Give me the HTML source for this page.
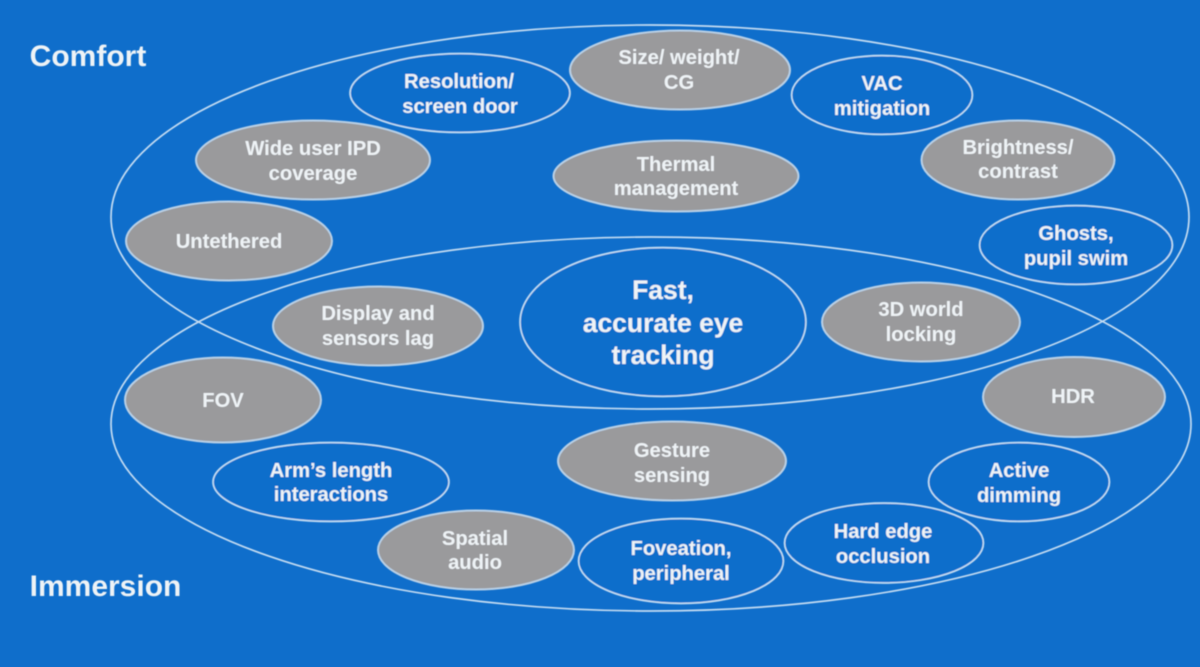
<!DOCTYPE html>
<html><head><meta charset="utf-8"><style>
html,body{margin:0;padding:0;background:#0f6ecb;width:1200px;height:667px;overflow:hidden}
svg{display:block}
text{font-family:"Liberation Sans",sans-serif;font-weight:bold;fill:#eef3f6;text-anchor:middle;font-size:20.2px}
.w{fill:none;stroke:#c4dcf2;stroke-width:1.7}
.b{fill:#0f6ecb;stroke:#c4dcf2;stroke-width:1.7}
.g{fill:#9a9a9c;stroke:#b9d0e6;stroke-width:2}
</style></head><body>
<svg width="1200" height="667" viewBox="0 0 1200 667" xmlns="http://www.w3.org/2000/svg">
<defs><filter id="s" x="-2%" y="-2%" width="104%" height="104%"><feGaussianBlur stdDeviation="0.5"/></filter></defs>
<rect width="1200" height="667" fill="#0f6ecb"/>
<g filter="url(#s)">
<ellipse class="w" cx="650" cy="217" rx="539" ry="192"/>
<ellipse class="w" cx="651" cy="424" rx="540" ry="187"/>
<ellipse class="b" cx="460" cy="93" rx="110" ry="39.500"/>
<ellipse class="g" cx="680" cy="70" rx="110" ry="39.500"/>
<ellipse class="b" cx="882" cy="95" rx="90.500" ry="39.500"/>
<ellipse class="g" cx="313" cy="160" rx="117" ry="39.500"/>
<ellipse class="g" cx="676" cy="176" rx="122.500" ry="35.500"/>
<ellipse class="g" cx="1018" cy="160" rx="96.500" ry="39.500"/>
<ellipse class="g" cx="229" cy="241" rx="103" ry="39.500"/>
<ellipse class="b" cx="1076" cy="245" rx="96.500" ry="39.500"/>
<ellipse class="g" cx="378" cy="326" rx="105" ry="39.500"/>
<ellipse class="b" cx="663" cy="322" rx="143" ry="74.500"/>
<ellipse class="g" cx="921" cy="322" rx="99" ry="39.500"/>
<ellipse class="g" cx="223" cy="400" rx="98" ry="42.500"/>
<ellipse class="g" cx="1074" cy="397" rx="91" ry="40"/>
<ellipse class="b" cx="331" cy="482" rx="118" ry="39.500"/>
<ellipse class="g" cx="672" cy="461" rx="114" ry="39.500"/>
<ellipse class="b" cx="1019" cy="482" rx="90.500" ry="39.500"/>
<ellipse class="g" cx="476" cy="550" rx="98" ry="39.500"/>
<ellipse class="b" cx="681" cy="561" rx="102.500" ry="42.500"/>
<ellipse class="b" cx="884" cy="543" rx="99.500" ry="40"/>
<text x="88" y="66" style="font-size:30px">Comfort</text>
<text x="105.500" y="596" style="font-size:30px">Immersion</text>
<text x="459" y="88">Resolution/</text><text x="460" y="113">screen door</text>
<text x="679" y="64">Size/ weight/</text><text x="679" y="89">CG</text>
<text x="882" y="90">VAC</text><text x="882" y="115">mitigation</text>
<text x="313" y="155">Wide user IPD</text><text x="313" y="180">coverage</text>
<text x="676" y="171">Thermal</text><text x="676" y="195">management</text>
<text x="1018" y="154">Brightness/</text><text x="1018" y="178">contrast</text>
<text x="229" y="248">Untethered</text>
<text x="1076" y="240">Ghosts,</text><text x="1076" y="265">pupil swim</text>
<text x="378" y="320">Display and</text><text x="378" y="345">sensors lag</text>
<text x="663" y="299" style="font-size:26.500px">Fast,</text><text x="663" y="332" style="font-size:26.500px">accurate eye</text><text x="663" y="364" style="font-size:26.500px">tracking</text>
<text x="921" y="316">3D world</text><text x="921" y="341">locking</text>
<text x="223" y="407">FOV</text>
<text x="1073" y="403">HDR</text>
<text x="331" y="477">Arm’s length</text><text x="331" y="501">interactions</text>
<text x="672" y="457">Gesture</text><text x="672" y="482">sensing</text>
<text x="1019" y="477">Active</text><text x="1019" y="502">dimming</text>
<text x="475" y="545">Spatial</text><text x="475" y="569">audio</text>
<text x="681" y="555">Foveation,</text><text x="681" y="580">peripheral</text>
<text x="883" y="538">Hard edge</text><text x="883" y="563">occlusion</text>
</g>
</svg>
</body></html>
